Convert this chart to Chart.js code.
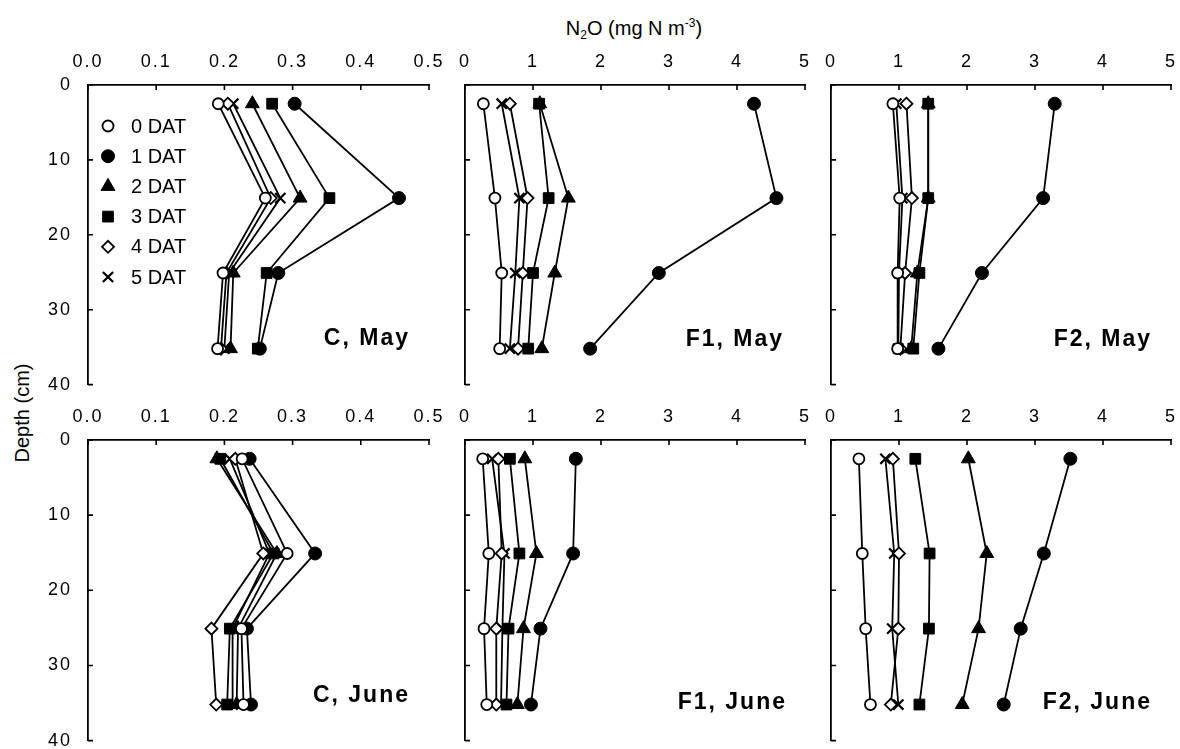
<!DOCTYPE html>
<html>
<head>
<meta charset="utf-8">
<script src="https://cdn.jsdelivr.net/npm/chart.js@4.4.0/dist/chart.umd.min.js"></script>
<style>
html,body{margin:0;padding:0;background:#fff;width:1180px;height:749px;overflow:hidden;position:relative;font-family:"Liberation Sans",Arial,sans-serif;color:#000;}
canvas{position:absolute;}
#title{position:absolute;left:484px;width:300px;top:16px;text-align:center;font-size:20px;line-height:24px;}
#title sub{font-size:12px;vertical-align:-4px;line-height:0;}
#title sup{font-size:12px;vertical-align:8px;line-height:0;}
#ytitle{position:absolute;left:-78px;top:401px;width:200px;text-align:center;font-size:20px;line-height:24px;transform:rotate(-90deg);}
</style>
</head>
<body>
<div id="title">N<sub>2</sub>O (mg N m<sup>-3</sup>)</div>
<div id="ytitle">Depth (cm)</div>
<script>
// ---------- data ----------
const seriesNames = ['0 DAT', '1 DAT', '2 DAT', '3 DAT', '4 DAT', '5 DAT'];
const depths = [2.5, 15.1, 25.1, 35.2];
const xTicksC = ['0.0', '0.1', '0.2', '0.3', '0.4', '0.5'];
const xTicksF = ['0', '1', '2', '3', '4', '5'];
const yTicks = ['0', '10', '20', '30', '40'];

// C, May
const cMay0 = [0.191, 0.260, 0.198, 0.190];
const cMay1 = [0.303, 0.456, 0.279, 0.252];
const cMay2 = [0.241, 0.311, 0.213, 0.209];
const cMay3 = [0.270, 0.354, 0.262, 0.249];
const cMay4 = [0.205, 0.268, 0.203, 0.195];
const cMay5 = [0.213, 0.282, 0.207, 0.200];
// F1, May
const f1May0 = [0.27, 0.44, 0.54, 0.51];
const f1May1 = [4.25, 4.58, 2.85, 1.84];
const f1May2 = [1.10, 1.52, 1.32, 1.13];
const f1May3 = [1.09, 1.23, 1.00, 0.93];
const f1May4 = [0.66, 0.92, 0.85, 0.78];
const f1May5 = [0.54, 0.80, 0.74, 0.66];
// F2, May
const f2May0 = [0.91, 1.01, 0.98, 0.98];
const f2May1 = [3.29, 3.12, 2.22, 1.58];
const f2May2 = [1.43, 1.43, 1.27, 1.18];
const f2May3 = [1.43, 1.43, 1.30, 1.21];
const f2May4 = [1.11, 1.19, 1.09, 1.02];
const f2May5 = [0.96, 1.05, 1.00, 0.99];
// C, June
const cJun0 = [0.226, 0.292, 0.225, 0.228];
const cJun1 = [0.237, 0.333, 0.233, 0.239];
const cJun2 = [0.189, 0.277, 0.220, 0.218];
const cJun3 = [0.194, 0.272, 0.208, 0.204];
const cJun4 = [0.216, 0.257, 0.181, 0.188];
const cJun5 = [0.208, 0.266, 0.212, 0.212];
// F1, June
const f1Jun0 = [0.26, 0.35, 0.28, 0.32];
const f1Jun1 = [1.63, 1.59, 1.11, 0.97];
const f1Jun2 = [0.88, 1.05, 0.86, 0.77];
const f1Jun3 = [0.66, 0.80, 0.64, 0.61];
const f1Jun4 = [0.49, 0.54, 0.46, 0.46];
const f1Jun5 = [0.40, 0.58, 0.55, 0.53];
// F2, June
const f2Jun0 = [0.41, 0.46, 0.51, 0.58];
const f2Jun1 = [3.52, 3.13, 2.79, 2.54];
const f2Jun2 = [2.02, 2.29, 2.17, 1.93];
const f2Jun3 = [1.24, 1.45, 1.44, 1.30];
const f2Jun4 = [0.91, 1.00, 0.99, 0.88];
const f2Jun5 = [0.80, 0.93, 0.90, 0.99];

// ---------- styles ----------
const FONT = '"Liberation Sans", Arial, sans-serif';
const markerStyles = [
  {pointStyle: 'circle', pointRadius: 5.5, pointBackgroundColor: '#fff', pointBorderColor: '#000', pointBorderWidth: 1.8},
  {pointStyle: 'circle', pointRadius: 6.5, pointBackgroundColor: '#000', pointBorderColor: '#000', pointBorderWidth: 1},
  {pointStyle: 'triangle', pointRadius: 8, pointBackgroundColor: '#000', pointBorderColor: '#000', pointBorderWidth: 1},
  {pointStyle: 'rect', pointRadius: 7.6, pointBackgroundColor: '#000', pointBorderColor: '#000', pointBorderWidth: 1},
  {pointStyle: 'rectRot', pointRadius: 6, pointBackgroundColor: '#fff', pointBorderColor: '#000', pointBorderWidth: 1.8},
  {pointStyle: 'crossRot', pointRadius: 7.2, pointBackgroundColor: '#000', pointBorderColor: '#000', pointBorderWidth: 2.2}
];

const PADL = 60, PADT = 50, PADR = 25, PADB = 8;

const panels = [
  {x: 88,  y: 85,  w: 341, h: 301, xmax: 0.5, step: 0.1, xLabels: xTicksC, showY: true,  name: 'C, May',  dx: 21, dy: 46, legend: true,
   series: [cMay0, cMay1, cMay2, cMay3, cMay4, cMay5]},
  {x: 465, y: 85,  w: 340, h: 301, xmax: 5, step: 1, xLabels: xTicksF, showY: false, name: 'F1, May',  dx: 23, dy: 45,
   series: [f1May0, f1May1, f1May2, f1May3, f1May4, f1May5]},
  {x: 831, y: 85,  w: 340, h: 301, xmax: 5, step: 1, xLabels: xTicksF, showY: false, name: 'F2, May',  dx: 21, dy: 45,
   series: [f2May0, f2May1, f2May2, f2May3, f2May4, f2May5]},
  {x: 88,  y: 440, w: 341, h: 302, xmax: 0.5, step: 0.1, xLabels: xTicksC, showY: true,  name: 'C, June', dx: 21, dy: 45,
   series: [cJun0, cJun1, cJun2, cJun3, cJun4, cJun5]},
  {x: 465, y: 440, w: 340, h: 302, xmax: 5, step: 1, xLabels: xTicksF, showY: false, name: 'F1, June', dx: 20, dy: 38,
   series: [f1Jun0, f1Jun1, f1Jun2, f1Jun3, f1Jun4, f1Jun5]},
  {x: 831, y: 440, w: 340, h: 302, xmax: 5, step: 1, xLabels: xTicksF, showY: false, name: 'F2, June', dx: 21, dy: 38,
   series: [f2Jun0, f2Jun1, f2Jun2, f2Jun3, f2Jun4, f2Jun5]}
];

// ---------- plugins ----------
const spacingPlugin = {
  id: 'spacing',
  beforeDraw(chart) { chart.ctx.letterSpacing = '2px'; },
  afterDraw(chart) { chart.ctx.letterSpacing = '0px'; }
};

const tickPlugin = {
  id: 'innerTicks',
  afterDraw(chart) {
    const ctx = chart.ctx, xs = chart.scales.x, ys = chart.scales.y, a = chart.chartArea;
    ctx.save();
    ctx.strokeStyle = '#000';
    ctx.lineWidth = 1.6;
    ctx.beginPath();
    xs.ticks.forEach(t => {
      const px = xs.getPixelForValue(t.value);
      ctx.moveTo(px, a.top);
      ctx.lineTo(px, a.top + 5);
    });
    ys.ticks.forEach(t => {
      const py = ys.getPixelForValue(t.value);
      ctx.moveTo(a.left, py);
      ctx.lineTo(a.left + 5, py);
    });
    ctx.stroke();
    ctx.restore();
  }
};

function drawMarker(ctx, st, x, y) {
  ctx.save();
  ctx.fillStyle = st.pointBackgroundColor;
  ctx.strokeStyle = st.pointBorderColor;
  ctx.lineWidth = st.pointBorderWidth;
  if (Chart.helpers && Chart.helpers.drawPoint) {
    Chart.helpers.drawPoint(ctx, {pointStyle: st.pointStyle, radius: st.pointRadius, rotation: 0, borderWidth: st.pointBorderWidth}, x, y);
  } else {
    ctx.beginPath();
    ctx.arc(x, y, st.pointRadius, 0, Math.PI * 2);
    ctx.fill(); ctx.stroke();
  }
  ctx.restore();
}

const labelPlugin = {
  id: 'panelLabel',
  afterDraw(chart, args, opts) {
    const ctx = chart.ctx, a = chart.chartArea, p = opts.panel;
    ctx.save();
    ctx.letterSpacing = '2px';
    ctx.fillStyle = '#000';
    ctx.font = 'bold 23px ' + FONT;
    ctx.textAlign = 'right';
    ctx.textBaseline = 'middle';
    ctx.fillText(p.name, a.right - p.dx + 2, a.bottom - p.dy);
    if (p.legend) {
      ctx.letterSpacing = '0px';
      ctx.font = '20px ' + FONT;
      ctx.textAlign = 'left';
      seriesNames.forEach((n, i) => {
        const yy = a.top + 41 + i * 30.2;
        drawMarker(ctx, markerStyles[i], a.left + 20, yy);
        ctx.fillStyle = '#000';
        ctx.fillText(n, a.left + 43, yy + 1);
      });
    }
    ctx.restore();
  }
};

// ---------- build ----------
function makePanel(p) {
  const cv = document.createElement('canvas');
  const W = PADL + p.w + PADR, H = PADT + p.h + PADB;
  cv.width = W; cv.height = H;
  cv.style.width = W + 'px'; cv.style.height = H + 'px';
  cv.style.left = (p.x - PADL) + 'px';
  cv.style.top = (p.y - PADT) + 'px';
  document.body.appendChild(cv);

  const datasets = p.series.map((vals, i) => Object.assign({
    label: seriesNames[i],
    data: vals.map((v, j) => ({x: v, y: depths[j]})),
    showLine: true,
    borderColor: '#000',
    borderWidth: 1.8,
    tension: 0,
    fill: false
  }, markerStyles[i]));

  new Chart(cv.getContext('2d'), {
    type: 'scatter',
    data: {datasets},
    options: {
      responsive: false,
      animation: false,
      devicePixelRatio: 1,
      layout: {padding: {left: 0, top: 0, right: PADR, bottom: PADB}},
      plugins: {legend: {display: false}, tooltip: {enabled: false}, panelLabel: {panel: p}},
      scales: {
        x: {
          type: 'linear', position: 'top', min: 0, max: p.xmax,
          ticks: {stepSize: p.step, color: '#000', font: {size: 18, family: FONT}, padding: 12, maxRotation: 0,
                  callback: (v) => p.xLabels[Math.round(v / p.step)]},
          grid: {display: false, drawTicks: false},
          border: {display: true, color: '#000', width: 1.8},
          afterFit(s) { s.height = PADT; s.paddingLeft = 0; s.paddingRight = 0; }
        },
        y: {
          type: 'linear', reverse: true, min: 0, max: 40,
          ticks: {stepSize: 10, display: p.showY, color: '#000', font: {size: 18, family: FONT}, padding: 16,
                  callback: (v) => yTicks[Math.round(v / 10)]},
          grid: {display: false, drawTicks: false},
          border: {display: true, color: '#000', width: 1.8},
          afterFit(s) { s.width = PADL; s.paddingTop = 0; s.paddingBottom = 0; }
        }
      }
    },
    plugins: [spacingPlugin, tickPlugin, labelPlugin]
  });
}
panels.forEach(makePanel);
</script>
</body>
</html>
